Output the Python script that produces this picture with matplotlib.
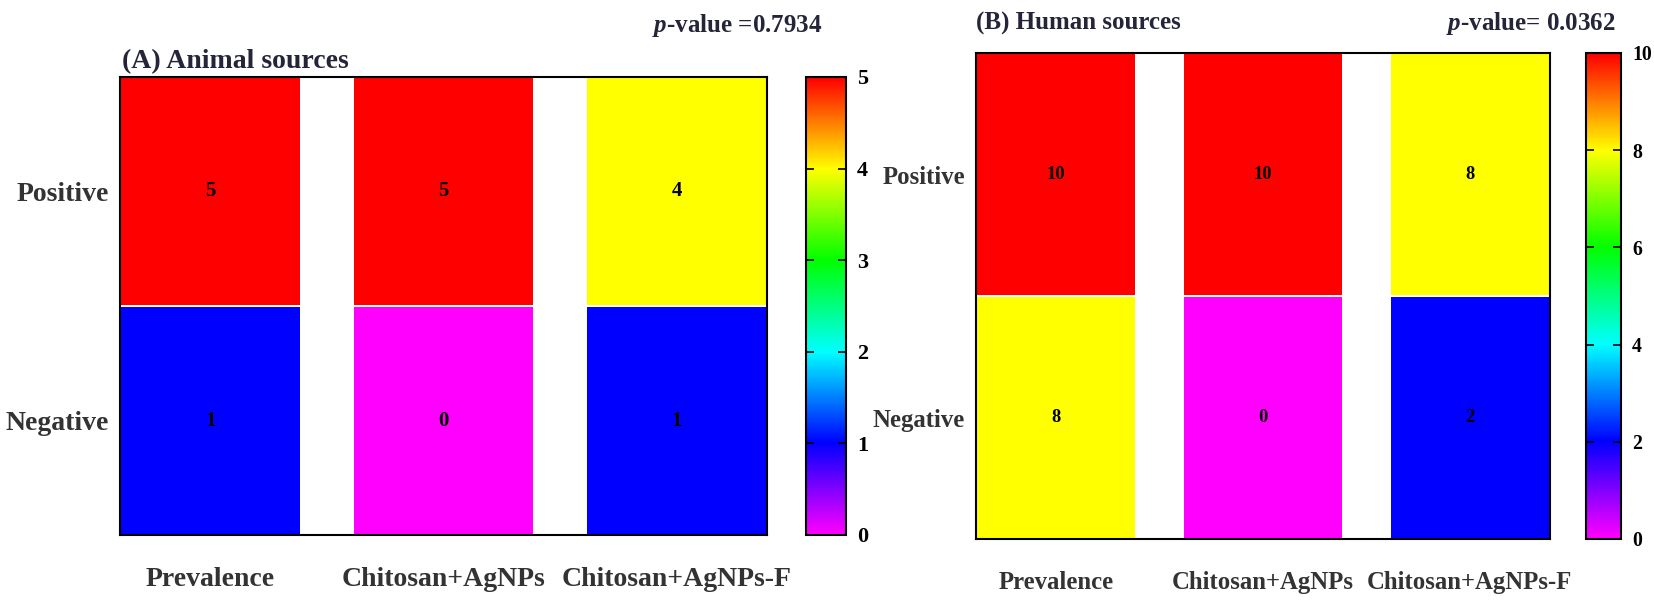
import numpy as np
import matplotlib
matplotlib.use("Agg")
import matplotlib.pyplot as plt
from matplotlib.colors import LinearSegmentedColormap, Normalize
from matplotlib.cm import ScalarMappable

# data
categories = ['Prevalence', 'Chitosan+AgNPs', 'Chitosan+AgNPs-F']
row_labels = ['Negative', 'Positive']   # bottom to top
animal_pos = [5, 5, 4]
animal_neg = [1, 0, 1]
human_pos = [10, 10, 8]
human_neg = [8, 0, 2]
titles = ['(A) Animal sources', '(B) Human sources']
pvalues = ['$p$-value =0.7934', '$p$-value= 0.0362']
vmaxes = [5, 10]
cbar_ticks = [[0, 1, 2, 3, 4, 5], [0, 2, 4, 6, 8, 10]]

plt.rcParams['font.family'] = ['Liberation Serif', 'DejaVu Serif']
plt.rcParams['font.weight'] = 'bold'
plt.rcParams['mathtext.fontset'] = 'custom'
plt.rcParams['mathtext.it'] = 'Liberation Serif:italic:bold'
plt.rcParams['mathtext.rm'] = 'Liberation Serif:bold'

cmap = LinearSegmentedColormap.from_list(
    'mbcgyr', ['#ff00ff', '#0000ff', '#00ffff', '#00ff00', '#ffff00', '#ff0000'])

fig = plt.figure(figsize=(16.54, 6.12), dpi=100)

W, H = 1654, 612
# pixel boxes: (left, top, right, bottom)
heat_boxes = [(120, 77, 767, 535), (976, 53, 1550, 539)]
cbar_boxes = [(806, 77, 846, 535), (1586, 53, 1621, 539)]
# panel B was drawn a bit smaller in the original
font_scale = [1.0, 0.89]


def fig_rect(box):
    l, t, r, b = box
    return [l / W, 1 - b / H, (r - l) / W, (b - t) / H]


gap = 0.29
panels = [(animal_neg, animal_pos), (human_neg, human_pos)]

for k, (neg, pos) in enumerate(panels):
    s = font_scale[k]
    ax = fig.add_axes(fig_rect(heat_boxes[k]))
    cax = fig.add_axes(fig_rect(cbar_boxes[k]))
    norm = Normalize(vmin=0, vmax=vmaxes[k])
    vals = np.array([neg, pos])

    centers = []
    for i in range(len(categories)):
        x0 = i * (1 + gap)
        ax.pcolormesh([x0, x0 + 1], [0, 1, 2], vals[:, i:i + 1],
                      cmap=cmap, norm=norm, edgecolors='white', linewidth=1.2)
        centers.append(x0 + 0.5)
        for j in range(2):
            ax.text(x0 + 0.5, j + 0.5, str(vals[j, i]), ha='center', va='center',
                    fontsize=15 * s, fontweight='bold', color='black')

    ax.set_xlim(0, len(categories) * (1 + gap) - gap)
    ax.set_ylim(0, 2)
    ax.set_xticks(centers)
    ax.set_xticklabels(categories, fontsize=20 * s, color='#333333')
    ax.set_yticks([0.5, 1.5])
    ax.set_yticklabels(row_labels, fontsize=20 * s, color='#333333')
    ax.tick_params(axis='x', length=0, pad=23)
    ax.tick_params(axis='y', length=0, pad=8)
    for sp in ax.spines.values():
        sp.set_linewidth(1.5)
        sp.set_color('black')

    cb = fig.colorbar(ScalarMappable(norm=norm, cmap=cmap), cax=cax)
    cb.set_ticks(cbar_ticks[k])
    cb.outline.set_linewidth(1.5)
    cax.tick_params(direction='in', length=6, width=1.2, left=True, right=True,
                    labelsize=16 * s, pad=8)
    for lab in cax.get_yticklabels():
        lab.set_fontweight('bold')

# titles and p-values
fig.text(122 / W, 1 - 68 / H, titles[0], ha='left', va='baseline',
         fontsize=20, fontweight='bold', color='#25253a')
fig.text(822 / W, 1 - 32 / H, pvalues[0], ha='right', va='baseline',
         fontsize=18, fontweight='bold', color='#25253a')
fig.text(976 / W, 1 - 30 / H, titles[1], ha='left', va='baseline',
         fontsize=18, fontweight='bold', color='#25253a')
fig.text(1616 / W, 1 - 30 / H, pvalues[1], ha='right', va='baseline',
         fontsize=18, fontweight='bold', color='#25253a')

fig.savefig('out.png', dpi=100, facecolor='white')
